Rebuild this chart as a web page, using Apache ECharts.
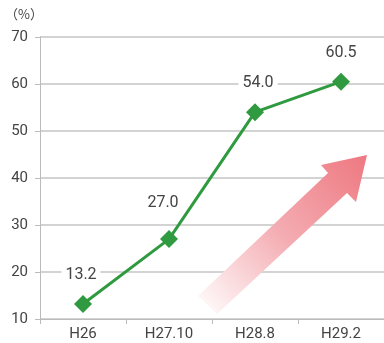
<!DOCTYPE html>
<html><head><meta charset="utf-8">
<script src="https://cdn.jsdelivr.net/npm/echarts@6/dist/echarts.min.js"></script>
<style>html,body{margin:0;padding:0;background:#fff}#c{width:384px;height:343px}</style>
</head><body><div id="c"></div>
<script>
const categories = ['H26', 'H27.10', 'H28.8', 'H29.2'];
const values = [13.2, 27.0, 54.0, 60.5];
const valueLabels = ['13.2', '27.0', '54.0', '60.5'];
const unitLabel = '（%）';

const chart = echarts.init(document.getElementById('c'));
const font = 'Roboto, "Noto Sans CJK JP", sans-serif';
const seriesData = values.map((v, i) => {
  const item = { value: v };
  if (i === 0) item.label = { offset: [-2, 0] };
  if (i === 1) item.label = { offset: [-6, -7] };
  if (i === 2) item.label = { offset: [3, 0] };
  return item;
});
chart.setOption({
  animation: false,
  textStyle: { fontFamily: font },
  grid: { left: 40, right: 0, top: 37, bottom: 24, containLabel: false },
  graphic: [
    { type: 'text', left: 5, top: 8, style: { text: unitLabel, fontSize: 13, fill: '#444', fontFamily: '"Noto Sans CJK JP", sans-serif' } },
    {
      type: 'polygon', z: 1,
      shape: { points: [[198, 296], [328, 173], [321, 165], [367, 155], [356, 202], [347, 193], [217, 314]] },
      style: {
        fill: new echarts.graphic.LinearGradient(0, 1, 1, 0, [
          { offset: 0, color: 'rgba(255,255,255,1)' },
          { offset: 0.5, color: 'rgba(244,172,178,1)' },
          { offset: 1, color: 'rgba(238,120,128,1)' }
        ])
      }
    }
  ],
  xAxis: {
    type: 'category', data: categories,
    axisLine: { lineStyle: { color: '#bbb', width: 1 } },
    axisTick: { show: true, length: 5, lineStyle: { color: '#bbb' } },
    axisLabel: { color: '#444', fontSize: 15, margin: 8 },
    splitLine: { show: false }
  },
  yAxis: {
    type: 'value', min: 10, max: 70, interval: 10,
    axisLine: { show: true, lineStyle: { color: '#bbb' } },
    axisTick: { show: true, length: 5, lineStyle: { color: '#bbb' } },
    axisLabel: { color: '#444', fontSize: 15, margin: 12 },
    splitLine: { lineStyle: { color: '#c4c4c4', width: 1.5 } }
  },
  series: [{
    type: 'line', data: seriesData, z: 3,
    symbol: 'diamond', symbolSize: 18,
    lineStyle: { color: '#2f9a3f', width: 3 },
    itemStyle: { color: '#2f9a3f' },
    label: {
      show: true, position: 'top', distance: 11,
      formatter: p => valueLabels[p.dataIndex],
      color: '#444', fontSize: 16, backgroundColor: '#fff', padding: [1, 4]
    }
  }]
});
</script></body></html>
